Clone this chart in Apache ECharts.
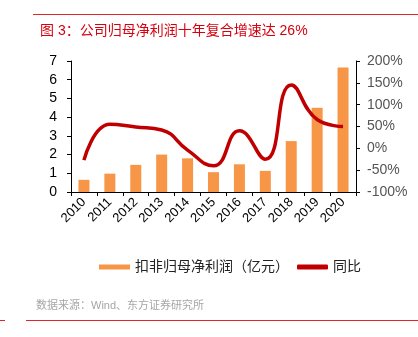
<!DOCTYPE html>
<html>
<head>
<meta charset="utf-8">
<script src="https://cdn.jsdelivr.net/npm/echarts@6/dist/echarts.min.js"></script>
<style>
html,body{margin:0;padding:0;background:#fff;}
#chart{width:418px;height:337px;}
</style>
</head>
<body>
<div id="chart"></div>
<script>
// 年份
const years = ['2010','2011','2012','2013','2014','2015','2016','2017','2018','2019','2020'];
// 扣非归母净利润（亿元）
const profit = [0.65, 0.98, 1.45, 2.0, 1.8, 1.06, 1.48, 1.13, 2.72, 4.5, 6.65];
// 同比增速（%）
const yoy = [-27, 55, 49, 42, -4, -40, 40, -25, 145, 66, 50];

const FONT = '"Liberation Sans", Arial, "Noto Sans CJK SC", sans-serif';
const chart = echarts.init(document.getElementById('chart'));
chart.setOption({
  animation: false,
  backgroundColor: '#fff',
  textStyle: { fontFamily: FONT },
  title: {
    text: '图 3：公司归母净利润十年复合增速达 26%',
    left: 35, top: 19,
    textStyle: { color: '#D7000F', fontSize: 14, fontWeight: 'normal', fontFamily: FONT }
  },
  graphic: [
    { type: 'line', shape: { x1: 33, y1: 14.5, x2: 418, y2: 14.5 }, style: { stroke: '#E0262B', lineWidth: 1 } },
    { type: 'line', shape: { x1: 26, y1: 320.5, x2: 418, y2: 320.5 }, style: { stroke: '#E0262B', lineWidth: 1 } },
    { type: 'line', shape: { x1: 0, y1: 320.5, x2: 5, y2: 320.5 }, style: { stroke: '#E0262B', lineWidth: 1 } },
    { type: 'text', left: 36, top: 300, style: { text: '数据来源：Wind、东方证券研究所', fill: '#A6A6A6', fontSize: 11, fontFamily: FONT } }
  ],
  legend: {
    top: 255, left: 94,
    itemGap: 8,
    textStyle: { fontSize: 14, color: '#222', fontFamily: FONT },
    data: [
      { name: '扣非归母净利润（亿元）', icon: 'rect', itemStyle: { color: '#F79646' } },
      { name: '同比', icon: 'roundRect', itemStyle: { color: '#C00000' } }
    ],
    itemWidth: 31, itemHeight: 5
  },
  grid: { left: 71, right: 62, top: 61, bottom: 145 },
  xAxis: {
    type: 'category', data: years,
    axisLine: { lineStyle: { color: '#000' } },
    axisTick: { show: true, alignWithLabel: false, length: 4, lineStyle: { color: '#000' } },
    axisLabel: { rotate: 45, color: '#000', fontSize: 13, margin: 8, interval: 0 }
  },
  yAxis: [
    {
      type: 'value', min: 0, max: 7, interval: 1,
      axisLine: { show: true, lineStyle: { color: '#000' } },
      axisTick: { show: true, length: 4, lineStyle: { color: '#000' } },
      axisLabel: { color: '#000', fontSize: 14, margin: 14 },
      splitLine: { show: false }
    },
    {
      type: 'value', min: -100, max: 200, interval: 50, position: 'right',
      axisLine: { show: true, lineStyle: { color: '#000' } },
      axisTick: { show: true, length: 4, lineStyle: { color: '#000' } },
      axisLabel: { color: '#555', fontSize: 14, margin: 11, formatter: '{value}%' },
      splitLine: { show: false }
    }
  ],
  series: [
    {
      name: '扣非归母净利润（亿元）', type: 'bar', data: profit,
      barWidth: 11, itemStyle: { color: '#F79646' }
    },
    {
      name: '同比', type: 'line', yAxisIndex: 1, data: yoy,
      smooth: 0.5, symbol: 'none',
      lineStyle: { color: '#C00000', width: 3.5 },
      itemStyle: { color: '#C00000' }
    }
  ]
});
</script>
</body>
</html>
